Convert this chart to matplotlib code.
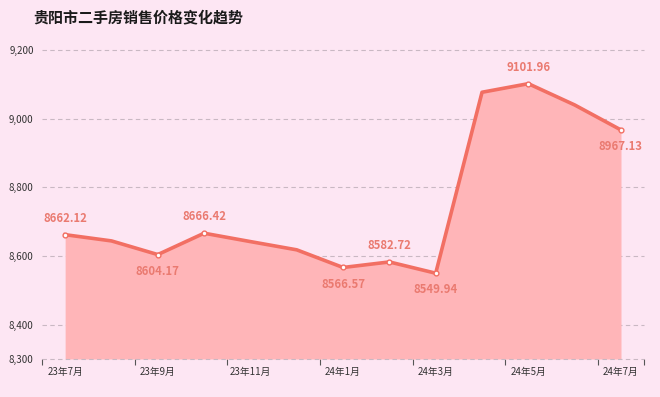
import matplotlib
matplotlib.use("Agg")
import matplotlib.pyplot as plt
import numpy as np

plt.rcParams['font.family'] = ['Noto Sans CJK SC', 'DejaVu Sans']

months = ["23年7月", "23年8月", "23年9月", "23年10月", "23年11月", "23年12月",
          "24年1月", "24年2月", "24年3月", "24年4月", "24年5月", "24年6月", "24年7月"]
prices = [8662.12, 8644.0, 8604.17, 8666.42, 8642.0, 8618.0,
          8566.57, 8582.72, 8549.94, 9077.0, 9101.96, 9040.0, 8967.13]
labeled = {0: "above", 2: "below", 3: "above", 6: "below", 7: "above",
           8: "below", 10: "above", 12: "below"}
yticks = [8300, 8400, 8600, 8800, 9000, 9200]

bg = "#fde6f3"
line_c = "#f26f63"
fill_c = "#ffb5b8"
lab_c = "#ea7a70"

fig = plt.figure(figsize=(6.6, 3.97), dpi=100, facecolor=bg)
ax = fig.add_axes([0.0636, 0.0957, 0.9124, 0.7783], facecolor=bg)

x = np.arange(len(months))
ax.fill_between(x, prices, 8300, color=fill_c, linewidth=0, zorder=2)
ax.plot(x, prices, color=line_c, linewidth=2.6, zorder=3, solid_joinstyle='round')
idx = list(labeled.keys())
ax.scatter([x[i] for i in idx], [prices[i] for i in idx], s=12, facecolor="white",
           edgecolor=line_c, linewidth=1.0, zorder=4)
for i, pos in labeled.items():
    dy = 12 if pos == "above" else -12
    ax.annotate(f"{prices[i]:.2f}", (x[i], prices[i]), xytext=(0, dy),
                textcoords="offset points", ha="center", va="center",
                fontsize=8.2, fontweight="bold", color=lab_c, zorder=5)

ax.set_xlim(-0.5, len(months) - 0.5)
ax.set_ylim(8300, 9200)
ax.set_yticks(yticks)
ax.set_yticklabels([f"{v:,}" for v in yticks])
for v in yticks:
    ax.axhline(v, color="#c9b8c3", linewidth=0.8, linestyle=(0, (4, 3)),
               zorder=2.5 if v == 8300 else 1, clip_on=False)

ax.set_xticks(x[::2])
ax.set_xticklabels(months[::2])
ax.set_xticks(np.arange(-0.5, len(months), 2).tolist() + [len(months) - 0.5], minor=True)
ax.tick_params(axis='x', which='major', length=0, labelsize=7, colors="#333333", pad=6)
ax.tick_params(axis='x', which='minor', length=4, color="#555555", width=0.8)
ax.tick_params(axis='y', length=0, labelsize=7, colors="#333333", pad=6)
for s in ax.spines.values():
    s.set_visible(False)

fig.text(0.05, 0.955, "贵阳市二手房销售价格变化趋势", fontsize=10.8, fontweight="bold",
         color="#1a1a1a", ha="left", va="center")

fig.savefig("out.png", dpi=100, facecolor=bg)
